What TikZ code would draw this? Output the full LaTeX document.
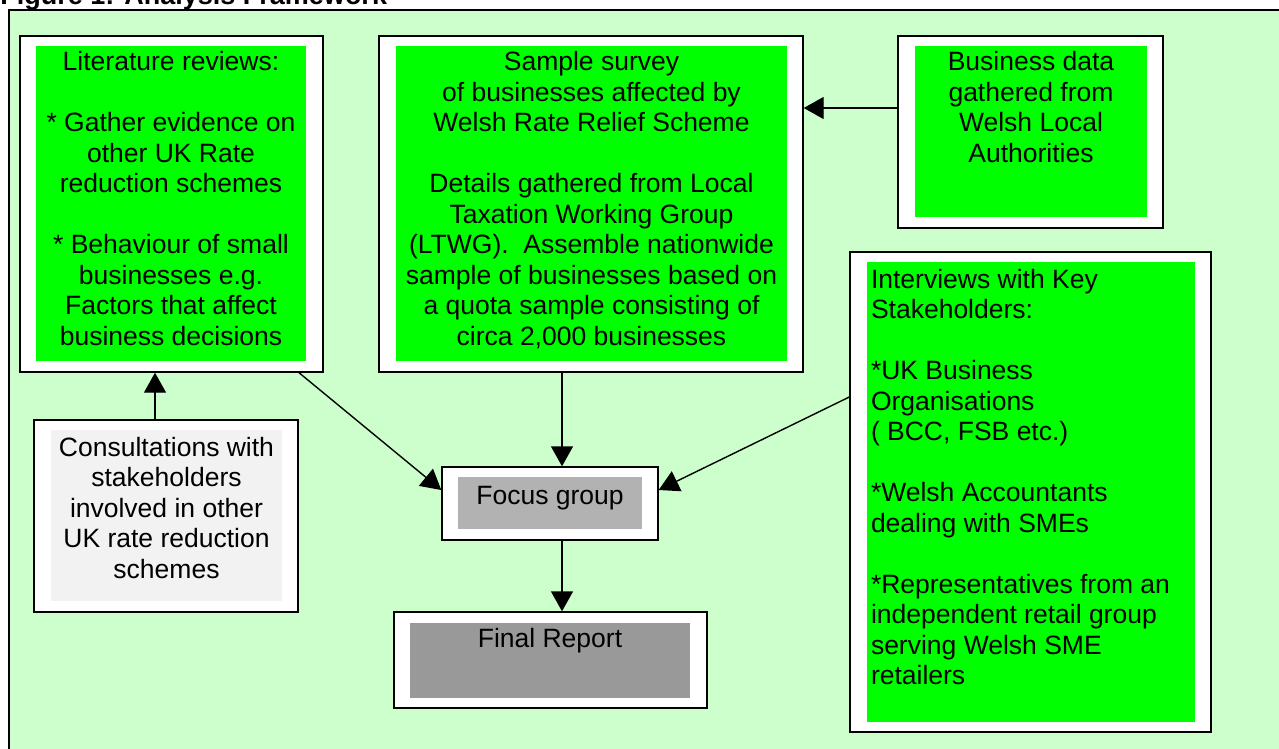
\documentclass[tikz,border=0pt]{standalone}
\usepackage{fontspec}
\setmainfont{Liberation Sans}
\usetikzlibrary{arrows.meta}
\definecolor{panelGreen}{HTML}{CCFFCC}
\definecolor{boxGreen}{HTML}{00FF00}
\definecolor{lightGrey}{HTML}{F2F2F2}
\definecolor{midGrey}{HTML}{B2B2B2}
\definecolor{darkGrey}{HTML}{999999}
\newcommand{\firstrow}{\rule{0pt}{12.4pt}}

\begin{document}
\begin{tikzpicture}[x=0.5pt, y=-0.5pt,
    frame/.style={draw=black, fill=white, line width=0.7pt, inner sep=0pt},
    panel/.style={inner sep=0pt, font=\fontsize{13.25}{15.25}\selectfont},
    arr/.style={-{Triangle[length=10pt, width=11pt]}, line width=0.7pt}]
    \useasboundingbox (0,0) rectangle (1279,749);

    % background panel
    \fill[panelGreen] (9,10) rectangle (1290,760);
    \draw[line width=1pt] (9,760) -- (9,10) -- (1290,10);
    \node[anchor=base west, inner sep=0pt, font=\fontsize{13.5}{15}\selectfont\bfseries] (title) at (0,5) {Figure 1: Analysis Framework};

    % outer frames
    \node[frame, minimum width=151.5pt, minimum height=168pt] (lit) at (171.5,204) {};
    \node[frame, minimum width=212pt, minimum height=168pt] (sample) at (591,204) {};
    \node[frame, minimum width=132.5pt, minimum height=96pt] (business) at (1030.5,132) {};
    \node[frame, minimum width=180.5pt, minimum height=240pt] (interviews) at (1030.5,492) {};
    \node[frame, minimum width=132pt, minimum height=96pt] (consult) at (166,516) {};
    \node[frame, minimum width=108pt, minimum height=36.5pt] (focus) at (550,503.5) {};
    \node[frame, minimum width=156.5pt, minimum height=48pt] (final) at (550.5,660) {};

    % inner panels
    \node[panel, fill=boxGreen] (litText) at (171,203.5) {\parbox[c][157.5pt][t]{135pt}{\centering
        \firstrow Literature reviews:\\[15.25pt]
        * Gather evidence on\\ other UK Rate\\ reduction schemes\\[15.25pt]
        * Behaviour of small\\ businesses e.g.\\ Factors that affect\\ business decisions}};
    \node[panel, fill=boxGreen] (sampleText) at (591.5,203.5) {\parbox[c][157.5pt][t]{195.5pt}{\centering
        \firstrow Sample survey\\ of businesses affected by\\ Welsh Rate Relief Scheme\\[15.25pt]
        Details gathered from Local\\ Taxation Working Group\\ (LTWG).\ \ Assemble nationwide\\
        sample of businesses based on\\ a quota sample consisting of\\ circa 2,000 businesses}};
    \node[panel, fill=boxGreen] (businessText) at (1031,131.5) {\parbox[c][85.5pt][t]{116pt}{\centering
        \firstrow Business data\\ gathered from\\ Welsh Local\\ Authorities}};
    \node[panel, fill=boxGreen, inner xsep=2pt] (interviewsText) at (1031,492) {\parbox[c][230pt][t]{160pt}{\raggedright
        \rule{0pt}{13.2pt}Interviews with Key\\ Stakeholders:\\[15.25pt]
        *UK Business\\ Organisations\\ ( BCC, FSB etc.)\\[15.25pt]
        *Welsh Accountants\\ dealing with SMEs\\[15.25pt]
        *Representatives from an\\ independent retail group\\ serving Welsh SME\\ retailers}};
    \node[panel, fill=lightGrey] (consultText) at (166.5,515.5) {\parbox[c][85.5pt][t]{115.5pt}{\centering
        \rule{0pt}{13pt}Consultations with\\ stakeholders\\ involved in other\\ UK rate reduction\\ schemes}};
    \node[panel, fill=midGrey] (focusText) at (550,503) {\parbox[c][26pt][t]{92pt}{\centering
        \rule{0pt}{13.5pt}Focus group}};
    \node[panel, fill=darkGrey] (finalText) at (550,660.5) {\parbox[c][37.5pt][t]{140pt}{\centering
        \rule{0pt}{12.2pt}Final Report}};

    % helper coordinates for the connectors
    \coordinate (xa) at (155,0);
    \coordinate (xb) at (299,0);
    \coordinate (xc) at (562,0);
    \coordinate (ya) at (0,108);
    \coordinate (yb) at (0,490);
    \coordinate (yc) at (0,397);

    % connectors
    \draw[arr] (business.west |- ya) -- (sample.east |- ya);
    \draw[arr] (consult.north -| xa) -- (lit.south -| xa);
    \draw[arr] (lit.south -| xb) -- (focus.west |- yb);
    \draw[arr] (sample.south -| xc) -- (focus.north -| xc);
    \draw[arr] (interviews.west |- yc) -- (focus.east |- yb);
    \draw[arr] (focus.south -| xc) -- (final.north -| xc);
\end{tikzpicture}
\end{document}
